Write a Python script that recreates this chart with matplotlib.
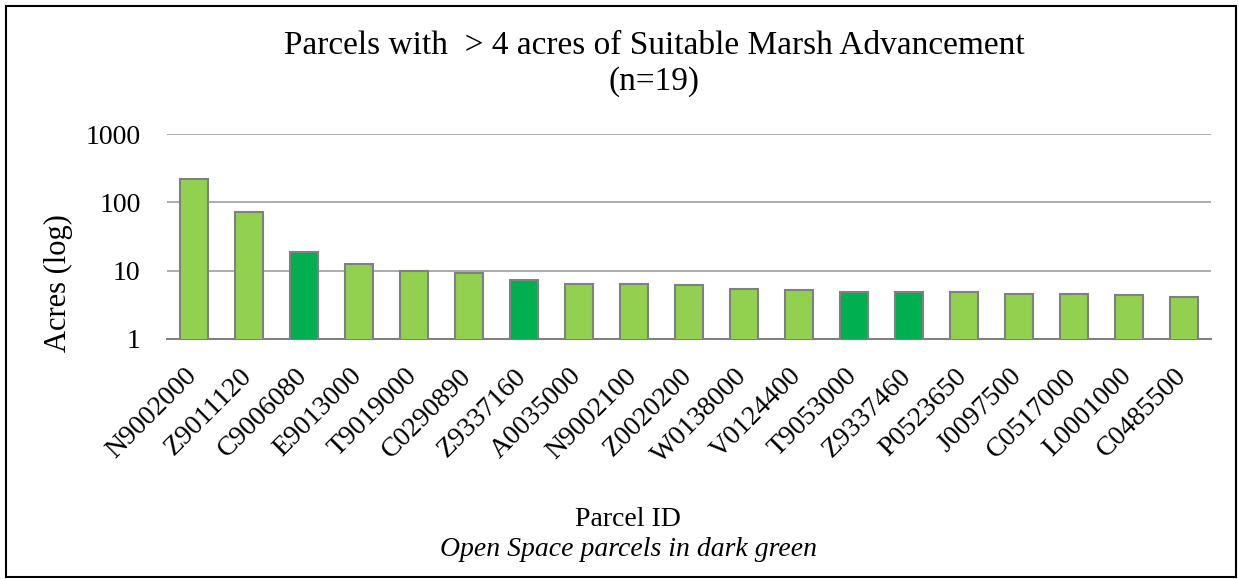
import matplotlib
matplotlib.use('Agg')
import matplotlib.pyplot as plt
import matplotlib.transforms as mtransforms
from matplotlib.patches import Rectangle

# parcels sorted by acreage of suitable marsh advancement
parcels = ['N9002000', 'Z9011120', 'C9006080', 'E9013000', 'T9019000', 'C0290890',
           'Z9337160', 'A0035000', 'N9002100', 'Z0020200', 'W0138000', 'V0124400',
           'T9053000', 'Z9337460', 'P0523650', 'J0097500', 'C0517000', 'L0001000',
           'C0485500']
acres = [218, 73, 18.8, 12.4, 9.8, 9.1, 7.4, 6.4, 6.3, 6.2, 5.4, 5.3,
         4.9, 4.9, 4.8, 4.6, 4.6, 4.45, 4.1]
open_space = ['C9006080', 'Z9337160', 'T9053000', 'Z9337460']

light = '#92D050'
dark = '#00B050'
colors = [dark if p in open_space else light for p in parcels]

plt.rcParams['font.family'] = ['Liberation Serif', 'DejaVu Serif']

W, H = 1239, 579
fig = plt.figure(figsize=(W / 100, H / 100), dpi=100)
ax = fig.add_axes([167 / W, 1 - 339 / H, (1211 - 167) / W, (339 - 134) / H])

x = range(len(parcels))
ax.bar(x, acres, width=0.51, color=colors, edgecolor='#808080', linewidth=1.5, zorder=3)
ax.set_yscale('log')
ax.set_ylim(1, 1000)
ax.set_xlim(-0.5, len(parcels) - 0.5)
ax.set_yticks([1, 10, 100, 1000])
ax.set_yticklabels(['1', '10', '100', '1000'], fontsize=20)
ax.minorticks_off()
ax.yaxis.grid(True, color='#A6A6A6', linewidth=1.3, zorder=0)
ax.tick_params(axis='y', length=0, pad=19)

ax.set_xticks(list(x))
ax.set_xticklabels(parcels, rotation=45, ha='right', rotation_mode='anchor', fontsize=20)
ax.tick_params(axis='x', length=0, pad=12)
# nudge the slanted labels so their ends sit under the bars
shift = mtransforms.ScaledTranslation(-10 / 100, -8 / 100, fig.dpi_scale_trans)
for lbl in ax.get_xticklabels():
    lbl.set_transform(lbl.get_transform() + shift)

for s in ['top', 'right', 'left']:
    ax.spines[s].set_visible(False)
ax.spines['bottom'].set_color('#808080')
ax.spines['bottom'].set_linewidth(1.5)

fig.text(58 / W, 1 - 283 / H, 'Acres (log)', rotation=90, ha='center', va='center', fontsize=22)
fig.text(654 / W, 1 - 46 / H, 'Parcels with  > 4 acres of Suitable Marsh Advancement',
         ha='center', va='center', fontsize=24)
fig.text(654 / W, 1 - 82 / H, '(n=19)', ha='center', va='center', fontsize=24)
fig.text(628 / W, 1 - 519 / H, 'Parcel ID', ha='center', va='center', fontsize=20)
fig.text(628 / W, 1 - 550 / H, 'Open Space parcels in dark green', ha='center', va='center',
         fontsize=20, style='italic')

fig.patches.append(Rectangle((6 / W, 2 / H), 1230 / W, 571 / H, transform=fig.transFigure,
                             fill=False, edgecolor='black', linewidth=1.5))

fig.savefig('out.png', dpi=100)
